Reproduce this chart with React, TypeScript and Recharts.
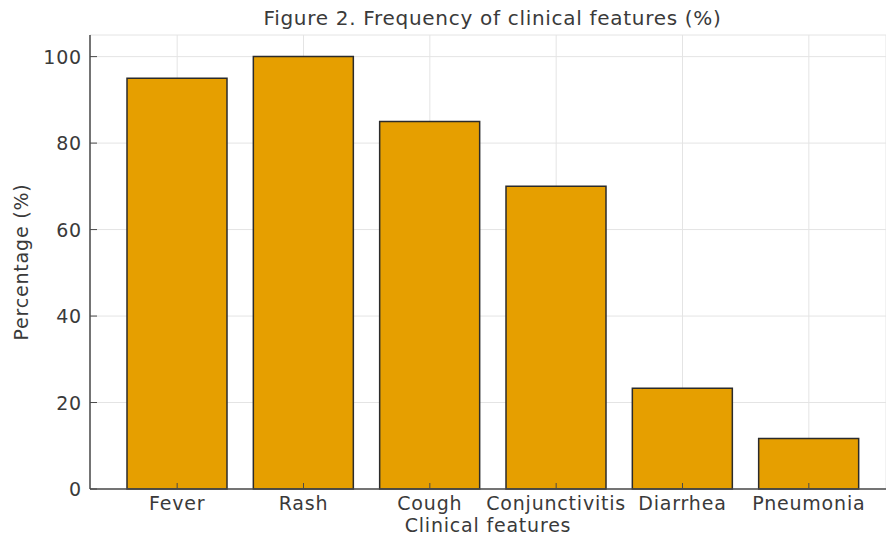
import React from 'react';
import { BarChart, Bar, XAxis, YAxis, CartesianGrid } from 'recharts';

const categories = ['Fever', 'Rash', 'Cough', 'Conjunctivitis', 'Diarrhea', 'Pneumonia'];
const percentages = [95, 100, 85, 70, 23.3, 11.7];
const yTicks = [0, 20, 40, 60, 80, 100];

const data = categories.map((name, i) => ({ name, value: percentages[i] }));

const FONT = '"DejaVu Sans", sans-serif';
const TEXT = '#3a3a3a';
const AXIS = '#4a4a4a';
const FS = 19;
const LS = 0.8;

const XTick = (props: any) => {
  const { x, y, payload } = props;
  return (
    <g>
      <line x1={x} x2={x} y1={y} y2={y - 6} stroke={AXIS} strokeWidth={1} />
      <text x={x} y={y + 21} textAnchor="middle" fill={TEXT} fontSize={FS} fontFamily={FONT} letterSpacing={LS}>
        {payload.value}
      </text>
    </g>
  );
};

const YTick = (props: any) => {
  const { x, y, payload } = props;
  return (
    <g>
      <line x1={x} x2={x + 7} y1={y} y2={y} stroke={AXIS} strokeWidth={1} />
      <text x={x - 8} y={y + 7} textAnchor="end" fill={TEXT} fontSize={FS} fontFamily={FONT} letterSpacing={LS}>
        {payload.value}
      </text>
    </g>
  );
};

export default function App() {
  return (
    <div style={{ position: 'absolute', left: 0, top: 0, width: 886, height: 542, background: '#fff' }}>
      <BarChart
        width={886}
        height={542}
        data={data}
        margin={{ top: 35, right: 0, left: 30, bottom: 23 }}
      >
        <CartesianGrid stroke="#e4e4e4" strokeWidth={1} />
        <XAxis
          dataKey="name"
          height={30}
          padding={{ left: 24, right: 14 }}
          axisLine={{ stroke: AXIS, strokeWidth: 1.5 }}
          tickLine={false}
          tickSize={0}
          tickMargin={0}
          tick={<XTick />}
          interval={0}
        />
        <YAxis
          width={60}
          domain={[0, 105]}
          ticks={yTicks}
          axisLine={{ stroke: AXIS, strokeWidth: 1.5 }}
          tickLine={false}
          tickSize={0}
          tickMargin={0}
          tick={<YTick />}
        />
        <Bar
          dataKey="value"
          fill="#E69F00"
          stroke="#2b2b2b"
          strokeWidth={1.5}
          barSize={100}
          isAnimationActive={false}
        />
      </BarChart>
      <div
        style={{
          position: 'absolute', left: 0, top: 6, width: 985, textAlign: 'center',
          fontFamily: FONT, fontSize: 20, letterSpacing: 0.7, color: TEXT, whiteSpace: 'nowrap',
        }}
      >
        Figure 2. Frequency of clinical features (%)
      </div>
      <div
        style={{
          position: 'absolute', left: 90, top: 514, width: 796, textAlign: 'center',
          fontFamily: FONT, fontSize: FS, letterSpacing: LS, color: TEXT, whiteSpace: 'nowrap',
        }}
      >
        Clinical features
      </div>
      <div
        style={{
          position: 'absolute', left: 21, top: 262, width: 0, height: 0,
        }}
      >
        <div
          style={{
            position: 'absolute', left: 0, top: 0, transform: 'translate(-50%, -50%) rotate(-90deg)',
            fontFamily: FONT, fontSize: FS, letterSpacing: LS, color: TEXT, whiteSpace: 'nowrap',
          }}
        >
          Percentage (%)
        </div>
      </div>
    </div>
  );
}
